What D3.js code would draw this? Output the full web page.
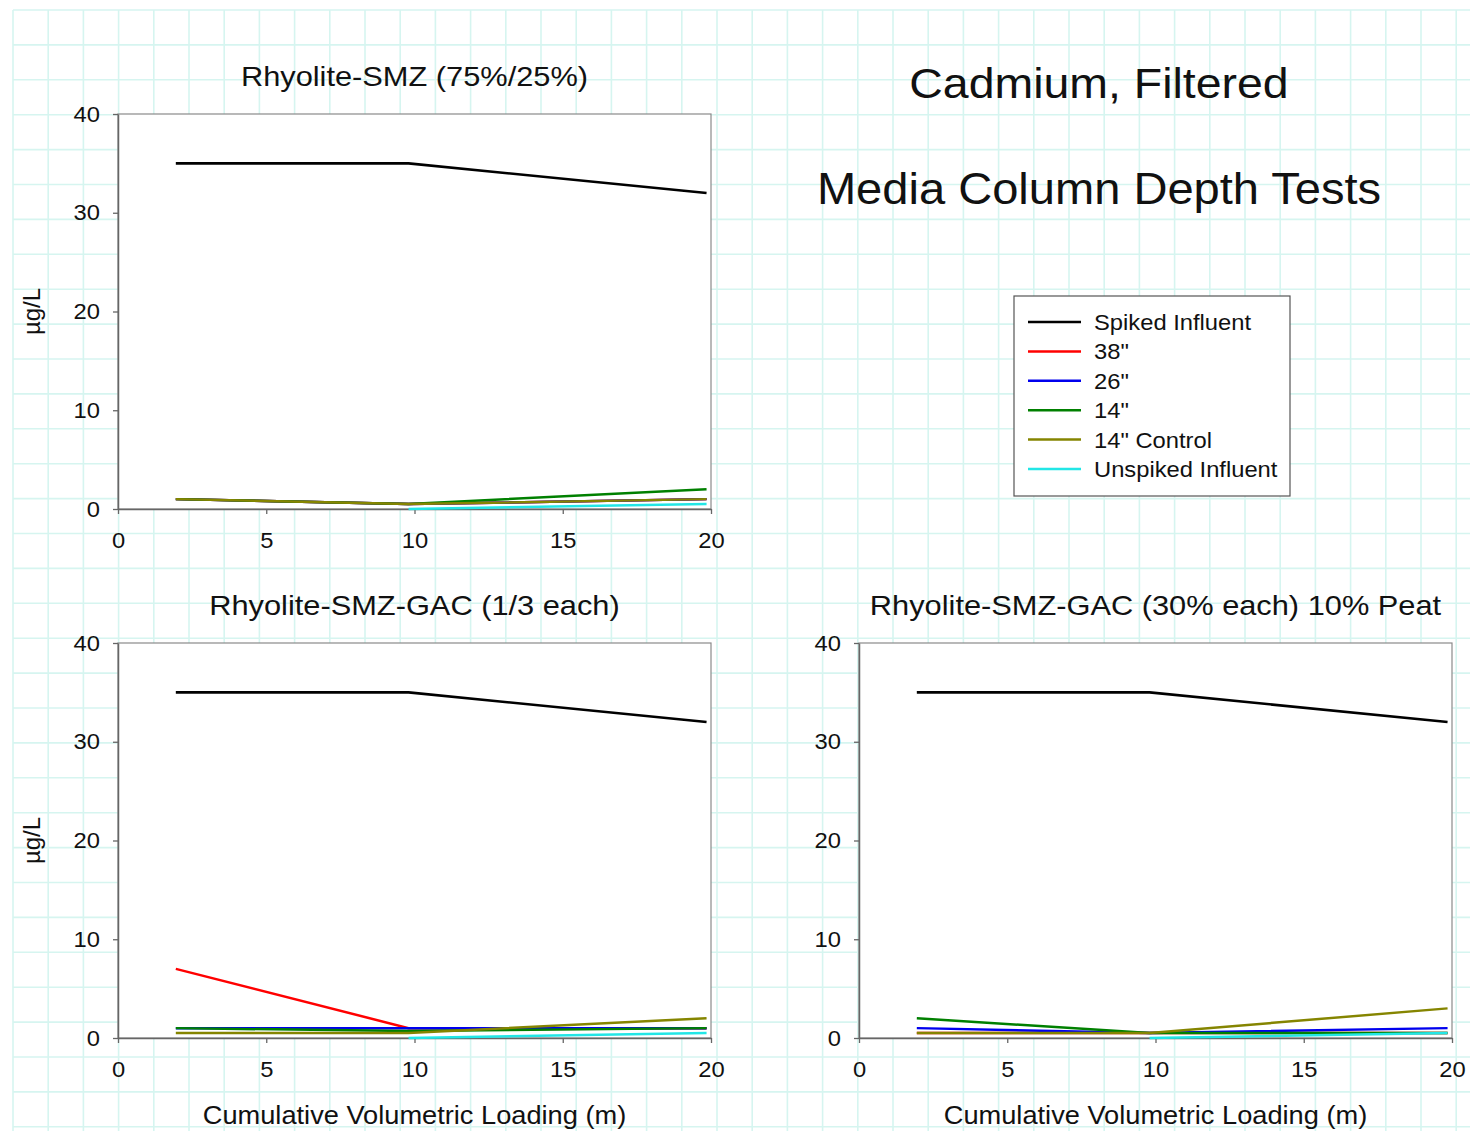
<!DOCTYPE html>
<html>
<head>
<meta charset="utf-8">
<script src="https://cdn.jsdelivr.net/npm/d3@7"></script>
<style>
  html, body { margin: 0; padding: 0; background: #ffffff; }
  svg { display: block; }
  text { font-family: "Liberation Sans", Arial, sans-serif; fill: #111; }
</style>
</head>
<body>
<svg id="chart" width="1477" height="1133"></svg>
<script>
// ---------------- DATA ----------------
const xValues = [1.95, 9.8, 19.85];
const seriesNames = ["Spiked Influent", "38\"", "26\"", "14\"", "14\" Control", "Unspiked Influent"];
const seriesColors = ["#000000", "#ff0000", "#0000ee", "#008000", "#858500", "#22e6e6"];
const panelTitles = ["Rhyolite-SMZ (75%/25%)", "Rhyolite-SMZ-GAC (1/3 each)", "Rhyolite-SMZ-GAC (30% each) 10% Peat"];
const mainTitle = ["Cadmium, Filtered", "Media Column Depth Tests"];
const xTicks = [0, 5, 10, 15, 20];
const yTicks = [0, 10, 20, 30, 40];
const xLabel = "Cumulative Volumetric Loading (m)";
const yLabel = "µg/L";

// Panel 1: Rhyolite-SMZ (75%/25%)
const smzSpiked    = [35, 35, 32];
const smz38        = [1.0, 0.5, 1.0];
const smz26        = [1.0, 0.5, 1.0];
const smz14        = [1.0, 0.5, 2.0];
const smz14Control = [1.0, 0.5, 1.0];
const smzUnspiked  = [null, 0.0, 0.5];

// Panel 2: Rhyolite-SMZ-GAC (1/3 each)
const gacSpiked    = [35, 35, 32];
const gac38        = [7.0, 1.0, 1.0];
const gac26        = [1.0, 1.0, 1.0];
const gac14        = [1.0, 0.7, 1.0];
const gac14Control = [0.5, 0.5, 2.0];
const gacUnspiked  = [null, 0.0, 0.5];

// Panel 3: Rhyolite-SMZ-GAC (30% each) 10% Peat
const peatSpiked    = [35, 35, 32];
const peat38        = [0.5, 0.5, 0.5];
const peat26        = [1.0, 0.5, 1.0];
const peat14        = [2.0, 0.5, 0.5];
const peat14Control = [0.5, 0.5, 3.0];
const peatUnspiked  = [null, 0.0, 0.5];

const panelSeries = [
  [smzSpiked, smz38, smz26, smz14, smz14Control, smzUnspiked],
  [gacSpiked, gac38, gac26, gac14, gac14Control, gacUnspiked],
  [peatSpiked, peat38, peat26, peat14, peat14Control, peatUnspiked]
];

// ---------------- LAYOUT ----------------
const W = 1477, H = 1133;
const SX = 1.08; // horizontal text stretch seen in the reference
const panels = [
  { x0: 118, x1: 711, y0: 114, y1: 509, yLabel: true },
  { x0: 118, x1: 711, y0: 643, y1: 1038, yLabel: true, xLabel: true },
  { x0: 859, x1: 1452, y0: 643, y1: 1038, yLabel: false, xLabel: true }
];

const svg = d3.select("#chart");
svg.append("rect").attr("width", W).attr("height", H).attr("fill", "#ffffff");

// graph-paper background
const grid = svg.append("g").attr("stroke", "#d6f5f0").attr("stroke-width", 1.6);
const gx0 = 13, gx1 = 1470, gy0 = 10, gy1 = 1131, gdx = 35.2, gdy = 34.9;
d3.range(gx0, gx1 + 1, gdx).forEach(x => grid.append("line").attr("x1", x).attr("x2", x).attr("y1", gy0).attr("y2", gy1));
d3.range(gy0, gy1 + 1, gdy).forEach(y => grid.append("line").attr("x1", gx0).attr("x2", gx1).attr("y1", y).attr("y2", y));

function stretchedText(g, x, y, str, size, anchor) {
  return g.append("text")
    .attr("transform", `translate(${x},${y}) scale(${SX},1)`)
    .attr("font-size", size)
    .attr("text-anchor", anchor || "middle")
    .text(str);
}

panels.forEach((p, i) => {
  const g = svg.append("g");
  const x = d3.scaleLinear().domain([0, 20]).range([p.x0, p.x1]);
  const y = d3.scaleLinear().domain([0, 40]).range([p.y1, p.y0]);

  g.append("rect").attr("x", p.x0).attr("y", p.y0).attr("width", p.x1 - p.x0).attr("height", p.y1 - p.y0)
    .attr("fill", "#ffffff").attr("stroke", "#8a8a8a").attr("stroke-width", 1.2);

  // axes
  const yAxis = d3.axisLeft(y).tickValues(yTicks).tickSize(5).tickSizeOuter(0).tickPadding(13);
  const xAxis = d3.axisBottom(x).tickValues(xTicks).tickSize(5).tickSizeOuter(0).tickPadding(18);
  const ga = g.append("g").attr("transform", `translate(${p.x0},0)`).call(yAxis);
  const gb = g.append("g").attr("transform", `translate(0,${p.y1})`).call(xAxis);
  [ga, gb].forEach(a => {
    a.select(".domain").attr("stroke", "#666").attr("stroke-width", 1.5);
    a.selectAll(".tick line").attr("stroke", "#666").attr("stroke-width", 1.3);
    a.selectAll(".tick text").attr("font-size", 22).attr("font-family", "Liberation Sans, Arial, sans-serif").attr("fill", "#111");
  });
  ga.selectAll(".tick text").attr("transform", function () {
    const xx = +d3.select(this).attr("x") || 0;
    return `translate(${-xx * (SX - 1)},0) scale(${SX},1)`;
  });
  gb.selectAll(".tick text").attr("transform", `scale(${SX},1)`);

  // series lines
  const line = d3.line()
    .defined(d => d[1] != null)
    .x(d => x(d[0]))
    .y(d => y(d[1]));
  panelSeries[i].forEach((vals, k) => {
    g.append("path")
      .datum(xValues.map((xv, j) => [xv, vals[j]]))
      .attr("fill", "none")
      .attr("stroke", seriesColors[k])
      .attr("stroke-width", k === 0 ? 2.6 : 2.5)
      .attr("d", line);
  });

  // panel title
  stretchedText(g, (p.x0 + p.x1) / 2, p.y0 - 28, panelTitles[i], 28.5, "middle");

  if (p.yLabel) {
    g.append("text")
      .attr("transform", `translate(${40},${(p.y0 + p.y1) / 2}) rotate(-90)`)
      .attr("font-size", 24).attr("text-anchor", "middle").text(yLabel);
  }
  if (p.xLabel) {
    stretchedText(g, (p.x0 + p.x1) / 2, 1124, xLabel, 25.2, "middle");
  }
});

// main title
stretchedText(svg, 1099, 98, mainTitle[0], 43, "middle");
stretchedText(svg, 1099, 204, mainTitle[1], 43.6, "middle");

// legend
const lg = svg.append("g");
lg.append("rect").attr("x", 1014).attr("y", 296).attr("width", 276).attr("height", 200)
  .attr("fill", "#ffffff").attr("stroke", "#555").attr("stroke-width", 1.2);
const legendY = d3.scaleLinear().domain([0, 5]).range([322, 469]);
seriesNames.forEach((name, k) => {
  const yy = legendY(k);
  lg.append("line").attr("x1", 1028).attr("x2", 1081).attr("y1", yy).attr("y2", yy)
    .attr("stroke", seriesColors[k]).attr("stroke-width", 2.5);
  stretchedText(lg, 1094, yy + 8, name, 22, "start");
});
</script>
</body>
</html>
